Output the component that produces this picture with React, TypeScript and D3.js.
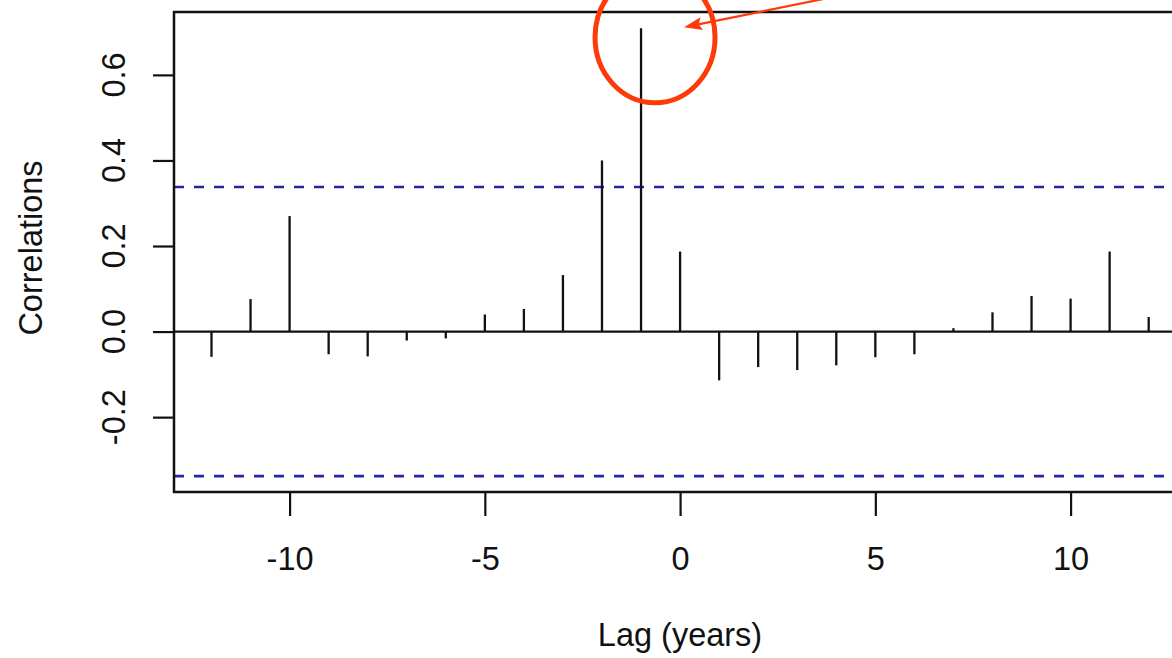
import React, { useEffect, useRef } from "react";
import * as d3 from "d3";

// lags and cross-correlation values
const lags = [-12, -11, -10, -9, -8, -7, -6, -5, -4, -3, -2, -1, 0, 1, 2, 3, 4, 5, 6, 7, 8, 9, 10, 11, 12];
const correlations = [
  -0.059, 0.076, 0.27, -0.053, -0.058, -0.021, -0.016, 0.04, 0.053, 0.132, 0.4, 0.709, 0.187,
  -0.114, -0.083, -0.09, -0.079, -0.06, -0.053, 0.008, 0.045, 0.083, 0.077, 0.187, 0.034,
];
const confLimit = 0.338;
const xTicks = [-10, -5, 0, 5, 10];
const yTicks = [-0.2, 0.0, 0.2, 0.4, 0.6];
const yTickLabels = ["-0.2", "0.0", "0.2", "0.4", "0.6"];

const W = 1172;
const H = 658;
const FONT = "'Liberation Sans', Arial, Helvetica, sans-serif";

const App = () => {
  const svgRef = useRef<SVGSVGElement>(null);

  useEffect(() => {
    const svg = d3.select(svgRef.current);
    svg.selectAll("*").remove();

    const left = 174;
    const top = 12;
    const bottom = 492;
    const unit = 39.05;
    const xPad = 12.96;

    const x = d3.scaleLinear().domain([-xPad, xPad]).range([left, left + 2 * xPad * unit]);
    const y = d3.scaleLinear().domain([-0.375, 0.747]).range([bottom, top]);
    const right = x(xPad);

    // confidence limits
    svg
      .selectAll(".ci")
      .data([confLimit, -confLimit])
      .join("line")
      .attr("x1", left)
      .attr("x2", right)
      .attr("y1", (d) => y(d))
      .attr("y2", (d) => y(d))
      .attr("stroke", "#2424a8")
      .attr("stroke-width", 2.6)
      .attr("stroke-dasharray", "10,10");

    // zero line
    svg
      .append("line")
      .attr("x1", left)
      .attr("x2", right)
      .attr("y1", y(0))
      .attr("y2", y(0))
      .attr("stroke", "#111")
      .attr("stroke-width", 2.2);

    // spikes
    svg
      .selectAll(".spike")
      .data(lags)
      .join("line")
      .attr("x1", (d) => x(d))
      .attr("x2", (d) => x(d))
      .attr("y1", y(0))
      .attr("y2", (d, i) => y(correlations[i]))
      .attr("stroke", "#111")
      .attr("stroke-width", 2.3);

    // box
    svg
      .append("rect")
      .attr("x", left)
      .attr("y", top)
      .attr("width", right - left + 10)
      .attr("height", bottom - top)
      .attr("fill", "none")
      .attr("stroke", "#111")
      .attr("stroke-width", 2.5);

    // x axis
    const xAxis = d3.axisBottom(x).tickValues(xTicks).tickSize(24).tickFormat(d3.format("d"));
    const gx = svg.append("g").attr("transform", `translate(0,${bottom})`).call(xAxis);
    gx.select(".domain").remove();
    gx.selectAll(".tick line").attr("stroke", "#111").attr("stroke-width", 2.2);
    gx.selectAll(".tick text")
      .text((d: any) => String(d).replace("−", "-"))
      .attr("y", 78)
      .attr("dy", null)
      .attr("fill", "#111")
      .style("font-family", FONT)
      .style("font-size", "32.5px");

    // y axis
    const yAxis = d3.axisLeft(y).tickValues(yTicks).tickSize(21).tickFormat(() => "");
    const gy = svg.append("g").attr("transform", `translate(${left},0)`).call(yAxis);
    gy.select(".domain").remove();
    gy.selectAll(".tick line").attr("stroke", "#111").attr("stroke-width", 2.2);

    svg
      .selectAll(".ylab")
      .data(yTicks)
      .join("text")
      .attr("transform", (d) => `translate(125,${y(d)}) rotate(-90)`)
      .attr("text-anchor", "middle")
      .attr("fill", "#111")
      .style("font-family", FONT)
      .style("font-size", "32.5px")
      .text((d, i) => yTickLabels[i]);

    // axis titles
    svg
      .append("text")
      .attr("x", 680)
      .attr("y", 646)
      .attr("text-anchor", "middle")
      .attr("fill", "#111")
      .style("font-family", FONT)
      .style("font-size", "32.5px")
      .text("Lag (years)");

    svg
      .append("text")
      .attr("transform", `translate(42,${(top + bottom) / 2 - 4}) rotate(-90)`)
      .attr("text-anchor", "middle")
      .attr("fill", "#111")
      .style("font-family", FONT)
      .style("font-size", "32.5px")
      .text("Correlations");

    // annotation round the peak
    const peakIdx = d3.maxIndex(correlations);
    const px = x(lags[peakIdx]);
    const py = y(correlations[peakIdx]);
    const red = "#ff3a0a";

    svg
      .append("ellipse")
      .attr("cx", px + 14)
      .attr("cy", py + 9)
      .attr("rx", 60)
      .attr("ry", 65.5)
      .attr("fill", "none")
      .attr("stroke", red)
      .attr("stroke-width", 5);

    const tipX = px + 43;
    const tipY = py - 1;
    const angle = Math.atan2(-27, 133);
    svg
      .append("line")
      .attr("x1", tipX + 12 * Math.cos(angle))
      .attr("y1", tipY + 12 * Math.sin(angle))
      .attr("x2", tipX + 160 * Math.cos(angle))
      .attr("y2", tipY + 160 * Math.sin(angle))
      .attr("stroke", red)
      .attr("stroke-width", 2.2);

    svg
      .append("path")
      .attr("transform", `translate(${tipX},${tipY}) rotate(${(angle * 180) / Math.PI})`)
      .attr("d", "M0,0 L18,-6.5 L15,0 L18,6.5 Z")
      .attr("fill", red);
  }, []);

  return (
    <div style={{ position: "fixed", left: 0, top: 0, width: W, height: H, background: "#fff" }}>
      <svg ref={svgRef} width={W} height={H} style={{ display: "block" }} />
    </div>
  );
};

export default App;
